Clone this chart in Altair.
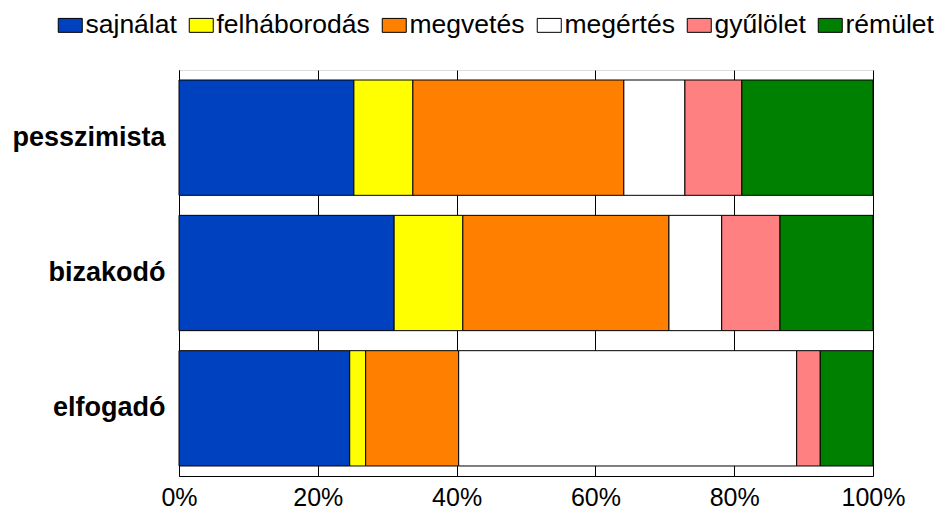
import altair as alt
import pandas as pd

categories = ["pesszimista", "bizakodó", "elfogadó"]
emotions = ["sajnálat", "felháborodás", "megvetés", "megértés", "gyűlölet", "rémület"]
colors = ["#0041BF", "#FFFF00", "#FF8000", "#FFFFFF", "#FF8080", "#008000"]

pesszimista = [25.2, 8.5, 30.4, 8.8, 8.2, 18.9]
bizakodo = [31.0, 9.9, 29.7, 7.6, 8.4, 13.4]
elfogado = [24.6, 2.3, 13.4, 48.7, 3.4, 7.6]

series = [pesszimista, bizakodo, elfogado]
rows = []
for cat, vals in zip(categories, series):
    for i, (emo, v) in enumerate(zip(emotions, vals)):
        rows.append({"cat": cat, "emotion": emo, "value": v, "idx": i})
df = pd.DataFrame(rows)

FONT = "Liberation Sans"

chart = alt.Chart(df).mark_bar(stroke="black", strokeWidth=1).encode(
    x=alt.X("value:Q", stack="normalize", title=None,
            scale=alt.Scale(domain=[0, 1], nice=False),
            axis=alt.Axis(format=".0%", values=[0, 0.2, 0.4, 0.6, 0.8, 1.0],
                          ticks=False, labelPadding=9, labelFontSize=25,
                          labelFont=FONT, labelColor="black",
                          grid=True, gridColor="black", gridWidth=1,
                          domainColor="black", labelFlush=False)),
    y=alt.Y("cat:N", sort=categories, title=None,
            scale=alt.Scale(paddingInner=0.148, paddingOuter=0.074),
            axis=alt.Axis(ticks=False, labelPadding=14, labelFontSize=27,
                          labelFontWeight="bold", labelFont=FONT,
                          labelColor="black", domainColor="black")),
    color=alt.Color("emotion:N", sort=emotions,
                    scale=alt.Scale(domain=emotions, range=colors),
                    legend=alt.Legend(title=None, orient="none", direction="horizontal",
                                      columns=6, legendX=-122, legendY=-58,
                                      symbolType="M-1,-0.58H1V0.58H-1Z", symbolSize=576,
                                      symbolStrokeColor="black", symbolStrokeWidth=1,
                                      symbolOpacity=1, labelLimit=400,
                                      labelFontSize=26.5, labelFont=FONT, labelColor="black",
                                      labelOffset=2, columnPadding=10, padding=0)),
    order=alt.Order("idx:Q"),
).properties(
    width=694, height=406,
    autosize=alt.AutoSizeParams(type="none"),
    padding={"left": 171, "top": 62, "right": 71, "bottom": 35},
).configure_view(stroke="black", strokeWidth=1).configure(background="white")

chart.save("out.html", embed_options={"renderer": "svg", "actions": False})
